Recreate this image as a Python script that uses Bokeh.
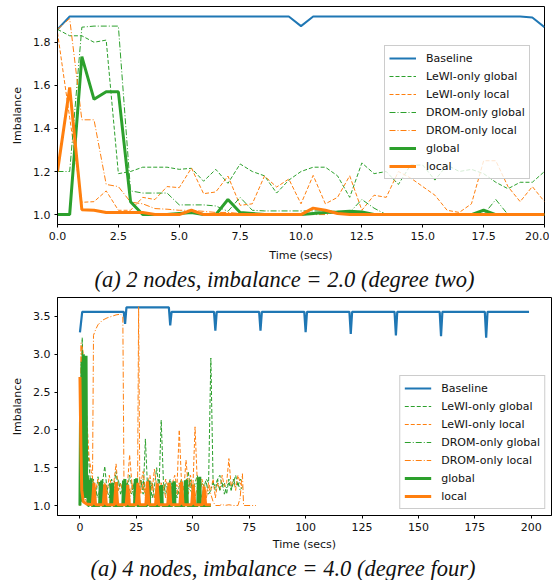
from bokeh.plotting import figure
from bokeh.layouts import column
from bokeh.models import Range1d, FixedTicker, Legend, LegendItem, Title, NumeralTickFormatter
from bokeh.embed import file_html
from bokeh.resources import INLINE

# ---------------- data: (a) 2 nodes, imbalance = 2.0 ----------------
T2 = [0.0, 0.5, 1.0, 1.5, 2.0, 2.5, 3.0, 3.5, 4.0, 4.5, 5.0, 5.5, 6.0, 6.5, 7.0, 7.5,
      8.0, 8.5, 9.0, 9.5, 10.0, 10.5, 11.0, 11.5, 12.0, 12.5, 13.0, 13.5, 14.0, 14.5,
      15.0, 15.5, 16.0, 16.5, 17.0, 17.5, 18.0, 18.5, 19.0, 19.5, 20.0]
BASE2 = [1.86, 1.92, 1.92, 1.92, 1.92, 1.92, 1.92, 1.92, 1.92, 1.92, 1.92, 1.92, 1.92, 1.92,
         1.92, 1.92, 1.92, 1.92, 1.92, 1.92, 1.875, 1.92, 1.92, 1.92, 1.92, 1.92, 1.92, 1.92,
         1.92, 1.92, 1.92, 1.92, 1.92, 1.92, 1.92, 1.92, 1.92, 1.92, 1.92, 1.915, 1.87]
LEWI_G2 = [1.86, 1.83, 1.83, 1.80, 1.81, 1.19, 1.20, 1.22, 1.22, 1.22, 1.21, 1.215, 1.155, 1.21,
           1.145, 1.235, 1.20, 1.18, 1.10, 1.16, 1.20, 1.22, 1.22, 1.18, 1.08, 1.24, 1.19, 1.20,
           1.14, 1.23, 1.23, 1.16, 1.23, 1.20, 1.21, 1.19, 1.15, 1.12, 1.15, 1.15, 1.20]
LEWI_L2 = [1.845, 1.45, 1.057, 1.06, 1.11, 1.02, 1.02, 1.08, 1.07, 1.13, 1.125, 1.216, 1.097, 1.105,
           1.179, 1.043, 1.05, 1.179, 1.128, 1.165, 1.05, 1.182, 1.05, 1.08, 1.18, 1.02, 1.09, 1.08,
           1.20, 1.17, 1.13, 1.09, 1.02, 1.01, 1.05, 1.25, 1.25, 1.13, 1.06, 1.13, 1.06]
DROM_G2 = [1.20, 1.20, 1.87, 1.875, 1.875, 1.875, 1.11, 1.10, 1.10, 1.10, 1.045, 1.045, 1.045, 1.04,
           1.015, 1.08, 1.02, 1.017, 1.017, 1.017, 1.017, 1.017, 1.017, 1.015, 1.01, 1.07, 1.03, 1.0,
           1.0, 1.0, 1.0, 1.0, 1.0, 1.0, 1.0, 1.0, 1.07, 1.0, 1.0, 1.0, 1.0]
DROM_L2 = [1.86, 1.91, 1.44, 1.44, 1.14, 1.13, 1.058, 1.05, 1.028, 1.025, 1.02, 1.02, 1.015, 1.01,
           1.01, 1.005, 1.0, 1.0, 1.0, 1.0, 1.0, 1.0, 1.0, 1.012, 1.005, 1.0, 1.0, 1.0,
           1.0, 1.0, 1.0, 1.0, 1.0, 1.0, 1.0, 1.0, 1.0, 1.0, 1.0, 1.0, 1.0]
GLOB2 = [1.0, 1.0, 1.733, 1.535, 1.57, 1.57, 1.06, 1.0, 1.0, 1.0, 1.005, 1.01, 1.0, 1.0,
         1.07, 1.01, 1.005, 1.0, 1.0, 1.0, 1.0, 1.005, 1.01, 1.012, 1.015, 1.012, 1.0, 1.0,
         1.0, 1.0, 1.0, 1.0, 1.0, 1.0, 1.0, 1.02, 1.0, 1.0, 1.0, 1.0, 1.0]
LOC2 = [1.2, 1.59, 1.023, 1.02, 1.01, 1.01, 1.01, 1.01, 1.0, 1.0, 1.0, 1.02, 1.0, 1.0,
        1.0, 1.0, 1.0, 1.0, 1.0, 1.0, 1.0, 1.03, 1.02, 1.005, 1.0, 1.0, 1.0, 1.0,
        1.0, 1.0, 1.0, 1.0, 1.0, 1.0, 1.0, 1.0, 1.0, 1.0, 1.0, 1.0, 1.0]

# ---------------- data: (a) 4 nodes, imbalance = 4.0 ----------------
BASE4_T = [0, 1, 19.4, 20, 20.6, 39.4, 40, 40.6, 59.4, 60, 60.6, 79.4, 80, 80.6, 99.4, 100, 100.6,
           119.4, 120, 120.6, 139.4, 140, 140.6, 159.4, 160, 160.6, 179.4, 180, 180.6, 199]
BASE4 = [3.29, 3.56, 3.56, 3.40, 3.62, 3.62, 3.38, 3.56, 3.56, 3.31, 3.56, 3.56, 3.31, 3.56, 3.56,
         3.29, 3.56, 3.56, 3.27, 3.56, 3.56, 3.25, 3.56, 3.56, 3.24, 3.56, 3.56, 3.22, 3.56, 3.56]

T4 = [0, 1, 2, 3, 4, 5, 6, 7, 8, 9, 10, 11, 12, 13, 14, 15, 16, 17, 18, 19,
      20, 21, 22, 23, 24, 25, 26, 27, 28, 29, 30, 31, 32, 33, 34, 35, 36, 37, 38, 39,
      40, 41, 42, 43, 44, 45, 46, 47, 48, 49, 50, 51, 52, 53, 54, 55, 56, 57, 58, 59,
      60, 61, 62, 63, 64, 65, 66, 67, 68, 69, 70, 71, 72]
LEWI_G4 = [1.0, 3.22, 2.2, 1.9, 1.55, 1.2, 1.35, 1.1, 1.38, 1.15, 1.3, 1.52, 1.2, 1.1, 1.35, 1.25, 1.45, 1.2, 1.3, 1.15,
           1.33, 1.2, 1.4, 1.25, 1.1, 1.3, 1.2, 1.35, 1.15, 1.88, 1.2, 1.3, 1.1, 1.25, 1.5, 1.2, 2.13, 1.3, 1.15, 1.25,
           1.35, 1.2, 1.3, 1.1, 1.25, 1.35, 1.2, 1.3, 1.45, 1.2, 1.15, 1.3, 1.4, 1.2, 1.3, 1.25, 1.35, 1.3, 2.95, 1.3,
           1.2, 1.35, 1.4, 1.25, 1.3, 1.15, 1.35, 1.2, 1.3, 1.4, 1.25, 1.35, 1.3]
LEWI_L4 = [1.0, 3.1, 2.9, 2.2, 1.65, 1.45, 1.3, 1.2, 1.35, 1.15, 1.25, 1.3, 1.15, 1.4, 1.25, 1.3, 1.55, 1.2, 1.3, 1.15,
           1.35, 1.25, 1.67, 1.3, 1.2, 1.35, 1.15, 1.3, 1.45, 1.2, 1.3, 1.4, 1.2, 1.48, 1.25, 1.15, 1.3, 1.2, 1.35, 1.25,
           1.15, 1.3, 1.4, 1.25, 2.0, 1.3, 1.2, 1.6, 1.25, 1.4, 1.2, 2.04, 1.3, 1.2, 1.35, 1.25, 1.15, 1.3, 1.2, 1.35,
           1.1, 1.3, 1.2, 1.4, 1.25, 1.3, 1.62, 1.25, 1.35, 1.2, 1.4, 1.3, 1.25]
DROM_G4 = [1.0, 3.05, 2.5, 1.5, 1.25, 1.15, 1.3, 1.2, 1.1, 1.25, 1.35, 1.15, 1.2, 1.3, 1.1, 1.25, 1.2, 1.35, 1.15, 1.25,
           1.1, 1.3, 1.2, 1.15, 1.3, 1.2, 1.1, 1.25, 1.35, 1.15, 1.25, 1.2, 1.3, 1.1, 1.25, 1.35, 1.2, 1.15, 1.3, 1.2,
           1.25, 1.1, 1.3, 1.2, 1.15, 1.3, 1.25, 1.1, 1.2, 1.35, 1.15, 1.25, 1.3, 1.2, 1.1, 1.25, 1.3, 1.15, 1.2, 1.3,
           1.25, 1.35, 1.2, 1.3, 1.15, 1.25, 1.3, 1.2, 1.35, 1.25, 1.3, 1.2, 1.25]
DROM_L4_T = [0, 0.5, 1, 2, 3, 4, 5, 5.5, 6, 7, 8, 10, 12, 14, 16, 18, 19, 19.5, 20, 21, 22, 23, 24, 25,
             25.5, 26, 26.5, 27, 28, 29, 30, 31, 32, 33, 34, 35, 36, 37, 38, 39, 40, 41, 42, 43, 44, 45,
             46, 47, 48, 49, 50, 51, 52, 53, 54, 55, 56, 57, 58, 59, 60, 62, 63, 64, 66, 68, 70, 71, 71.5,
             72, 72.5, 74, 76, 78]
DROM_L4 = [1.0, 3.15, 1.5, 1.1, 1.05, 1.02, 1.0, 1.05, 3.25, 3.33, 3.39, 3.45, 3.48, 3.5, 3.52, 3.53, 3.5,
           1.3, 1.1, 1.2, 1.05, 1.3, 1.15, 1.2, 1.1, 3.63, 1.3,
           1.15, 1.3, 1.1, 1.25, 1.15, 1.3, 1.1, 1.2, 1.3, 1.15, 1.25, 1.1, 1.3, 1.2, 1.1, 1.25, 1.15,
           1.3, 1.2, 1.1, 1.25, 1.15, 1.3, 1.2, 1.1, 1.25, 1.15, 1.3, 1.2, 1.1, 1.25, 1.15, 1.05, 1.0,
           1.0, 1.02, 1.0, 1.01, 1.0, 1.0, 1.1, 1.3, 1.42, 1.0, 1.0, 1.0, 1.0]
GLOB4_T = [0.0, 0.3, 0.6, 0.9, 1.2, 1.5, 1.8, 2.1, 2.4, 2.7, 3.0, 3.3, 3.6,
           4.0, 4.3, 4.6, 4.9, 5.2, 8.7, 9.0, 9.3, 9.6, 9.9, 13.6, 13.9, 14.2, 14.5, 14.8,
           19.0, 19.3, 19.6, 19.9, 20.2, 24.2, 24.5, 24.8, 25.1, 25.4, 29.7, 30.0, 30.3, 30.6, 30.9,
           35.3, 35.6, 35.9, 36.2, 36.5, 40.9, 41.2, 41.5, 41.8, 42.1, 46.4, 46.7, 47.0, 47.3, 47.6,
           52.2, 52.5, 52.8, 53.1, 53.4, 58.0]
GLOB4 = [1.0, 2.45, 1.05, 2.9, 1.2, 3.0, 1.1, 2.95, 1.3, 2.98, 1.1, 1.4, 1.0,
         1.0, 1.34, 1.03, 1.36, 1.0, 1.0, 1.31, 1.02, 1.33, 1.0, 1.0, 1.29, 1.02, 1.3, 1.0,
         1.0, 1.33, 1.03, 1.35, 1.0, 1.0, 1.35, 1.02, 1.36, 1.0, 1.0, 1.31, 1.02, 1.33, 1.0,
         1.0, 1.26, 1.02, 1.27, 1.0, 1.0, 1.3, 1.02, 1.32, 1.0, 1.0, 1.33, 1.02, 1.34, 1.0,
         1.0, 1.37, 1.03, 1.38, 1.0, 1.0]
LOC4_T = [0.0, 0.4, 0.8, 1.5, 3.0, 5.5, 6.2, 6.9, 10.3, 11.0, 11.7, 15.3, 16.0, 16.7,
          20.5, 21.2, 21.9, 25.0, 25.7, 26.4, 29.2, 29.9, 30.6, 33.5, 34.2, 34.9,
          38.9, 39.6, 40.3, 44.3, 45.0, 45.7, 49.5, 50.2, 50.9, 54.3, 55.0, 55.7, 58.0]
LOC4 = [2.7, 1.8, 1.2, 1.05, 1.02, 1.01, 1.3, 1.01, 1.01, 1.28, 1.01, 1.01, 1.31, 1.01,
        1.01, 1.27, 1.01, 1.01, 1.3, 1.01, 1.01, 1.32, 1.01, 1.01, 1.29, 1.01,
        1.01, 1.3, 1.01, 1.01, 1.31, 1.01, 1.01, 1.28, 1.01, 1.01, 1.25, 1.01, 1.01]

NAMES = ["Baseline", "LeWI-only global", "LeWI-only local", "DROM-only global",
         "DROM-only local", "global", "local"]
X_TICKS_2 = [0, 2.5, 5, 7.5, 10, 12.5, 15, 17.5, 20]
Y_TICKS_2 = [1.0, 1.2, 1.4, 1.6, 1.8]
X_TICKS_4 = [0, 25, 50, 75, 100, 125, 150, 175, 200]
Y_TICKS_4 = [1.0, 1.5, 2.0, 2.5, 3.0, 3.5]
CAPTION_2 = "(a) 2 nodes, imbalance = 2.0 (degree two)"
CAPTION_4 = "(a) 4 nodes, imbalance = 4.0 (degree four)"

for a, b in [(T2, BASE2), (T2, LEWI_G2), (T2, LEWI_L2), (T2, DROM_G2), (T2, DROM_L2), (T2, GLOB2),
             (T2, LOC2), (BASE4_T, BASE4), (T4, LEWI_G4), (T4, LEWI_L4), (T4, DROM_G4),
             (DROM_L4_T, DROM_L4), (GLOB4_T, GLOB4), (LOC4_T, LOC4)]:
    assert len(a) == len(b), (len(a), len(b))

BLUE, ORANGE, GREEN = "#1f77b4", "#ff7f0e", "#2ca02c"
DASH = "4 2"
DASHDOT = "6 2 1 2"
FONT = "DejaVu Sans"


def make_fig(width, height, xr, yr, xticks, yticks, xfmt, mbt, mbb, mbr, xlab_standoff):
    p = figure(width=width, height=height, x_range=Range1d(*xr), y_range=Range1d(*yr),
               output_backend="svg", toolbar_location=None,
               min_border_left=46, min_border_right=mbr,
               min_border_top=mbt, min_border_bottom=mbb)
    p.xgrid.visible = False
    p.ygrid.visible = False
    p.outline_line_color = "black"
    p.outline_line_alpha = 1.0
    p.outline_line_width = 1
    p.background_fill_color = "white"
    p.border_fill_color = "white"
    for ax in (p.xaxis[0], p.yaxis[0]):
        ax.axis_line_color = "black"
        ax.major_tick_line_color = "black"
        ax.major_tick_out = 3
        ax.major_tick_in = 0
        ax.minor_tick_line_color = None
        ax.major_label_text_font = FONT
        ax.major_label_text_font_size = "11px"
        ax.major_label_text_color = "#111111"
        ax.axis_label_text_font = FONT
        ax.axis_label_text_font_size = "11px"
        ax.axis_label_text_font_style = "normal"
        ax.axis_label_text_color = "#111111"
        ax.major_label_standoff = 4
        ax.axis_label_standoff = 6
    p.xaxis.axis_label_standoff = xlab_standoff
    p.xaxis.ticker = FixedTicker(ticks=xticks)
    p.yaxis.ticker = FixedTicker(ticks=yticks)
    p.xaxis.formatter = NumeralTickFormatter(format=xfmt)
    p.yaxis.formatter = NumeralTickFormatter(format="0.0")
    p.xaxis.axis_label = "Time (secs)"
    p.yaxis.axis_label = "Imbalance"
    return p


def add_lines(p, series, base_w):
    specs = [(BLUE, base_w, "solid"), (GREEN, 1.0, DASH), (ORANGE, 1.0, DASH),
             (GREEN, 1.0, DASHDOT), (ORANGE, 1.0, DASHDOT), (GREEN, 3.0, "solid"),
             (ORANGE, 3.0, "solid")]
    rs = []
    for (xs, ys), (c, w, d) in zip(series, specs):
        rs.append(p.line(xs, ys, line_color=c, line_width=w, line_dash=d))
    return rs


def add_legend(p, rs, loc, margin):
    leg = Legend(items=[LegendItem(label=n, renderers=[r]) for n, r in zip(NAMES, rs)],
                 location=loc, margin=margin, padding=4, spacing=2,
                 label_height=16, glyph_height=16, glyph_width=27, label_standoff=10,
                 label_text_font=FONT, label_text_font_size="11px", label_text_color="#111111",
                 border_line_color="#cccccc", border_line_width=1, border_line_alpha=1.0,
                 background_fill_color="white", background_fill_alpha=0.8)
    p.add_layout(leg)


def add_caption(p, text, offset):
    cap = Title(text=text, align="left", offset=offset, text_font="Liberation Serif",
                text_font_style="italic", text_font_size="22.5px", text_color="#111111",
                standoff=0)
    p.add_layout(cap, "below")


p1 = make_fig(541, 286, (0, 20), (0.954, 1.966), X_TICKS_2, Y_TICKS_2, "0.0", 0, 68, 5, 6)
r1 = add_lines(p1, [(T2, BASE2), (T2, LEWI_G2), (T2, LEWI_L2), (T2, DROM_G2), (T2, DROM_L2),
                    (T2, GLOB2), (T2, LOC2)], 2.0)
add_legend(p1, r1, (327, 45), 0)
add_caption(p1, CAPTION_2, 37)

p2 = make_fig(548, 288, (-9.95, 208.95), (0.868, 3.75), X_TICKS_4, Y_TICKS_4, "0", 5, 65, 2, 4)
r2 = add_lines(p2, [(BASE4_T, BASE4), (T4, LEWI_G4), (T4, LEWI_L4), (T4, DROM_G4),
                    (DROM_L4_T, DROM_L4), (GLOB4_T, GLOB4), (LOC4_T, LOC4)], 2.2)
add_legend(p2, r2, "bottom_right", 6)
add_caption(p2, CAPTION_4, 33)

layout = column(p1, p2, spacing=0, margin=(6, 0, 0, 8))
open("out.html", "w").write(file_html(layout, INLINE))
